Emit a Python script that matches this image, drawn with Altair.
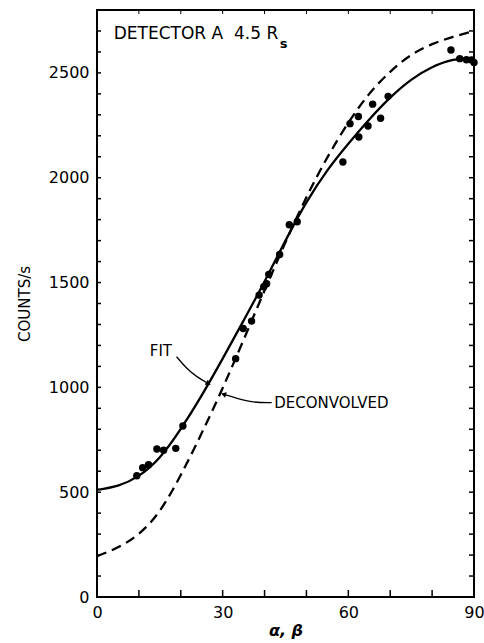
import altair as alt
import pandas as pd

# Measured count rates (angle in degrees, counts per second)
obs_angle = [9.5, 10.9, 12.3, 14.3, 15.9, 18.8, 20.5, 33.1, 34.9, 36.9, 38.7, 39.8,
             40.5, 41.0, 43.6, 45.9, 47.8, 58.7, 60.4, 62.4, 62.5, 64.7, 65.8, 67.7,
             69.5, 84.5, 86.6, 88.2, 89.4, 90.0]
obs_counts = [578, 617, 631, 706, 700, 709, 816, 1137, 1281, 1316, 1440, 1480,
              1494, 1539, 1634, 1776, 1790, 2075, 2258, 2292, 2194, 2247, 2351, 2284,
              2388, 2609, 2568, 2563, 2562, 2550]

# Fitted and deconvolved response curves
curve_angle = [0, 5, 10, 15, 20, 25, 30, 35, 40, 45, 50, 55, 60, 65, 70, 75, 80, 85, 90]
fit_counts = [511, 531, 579, 667, 802, 962, 1137, 1319, 1505, 1700, 1882, 2035, 2162,
              2278, 2382, 2467, 2527, 2562, 2572]
deconv_counts = [195, 237, 302, 412, 582, 782, 997, 1227, 1462, 1692, 1907, 2097, 2262,
                 2400, 2505, 2585, 2637, 2672, 2700]

# Tick positions
x_labels = [0, 30, 60, 90]
x_ticks = [0, 10, 20, 30, 40, 50, 60, 70, 80, 90]
y_labels = [0, 500, 1000, 1500, 2000, 2500]
y_ticks = list(range(100, 2800, 100))

# Leader lines for the curve labels
fit_arrow_x = [19.0, 21.4, 23.8, 26.6]
fit_arrow_y = [1146, 1090, 1050, 1018]
dec_arrow_x = [41.7, 37.3, 33.3, 30.2]
dec_arrow_y = [927, 927, 948, 967]

FONT = "DejaVu Sans"
NB = "\u00a0"
W, H = 377, 587

xs = alt.Scale(domain=[0, 90], nice=False, zero=False)
ys = alt.Scale(domain=[0, 2800], nice=False)
x_axis = alt.Axis(values=x_labels, ticks=False, domain=False, grid=False, format="d",
                  labelFont=FONT, labelFontSize=16, labelPadding=7, labelColor="black",
                  labelFlush=False, titleFont=FONT, titleFontSize=16,
                  titleFontWeight="bold", titleFontStyle="italic", titlePadding=2,
                  titleColor="black")
y_axis = alt.Axis(values=y_labels, ticks=False, domain=False, grid=False, format="d",
                  labelFont=FONT, labelFontSize=16, labelPadding=8, labelColor="black",
                  titleFont=FONT, titleFontSize=15, titleFontWeight="normal",
                  titlePadding=16, titleColor="black")


def X(field):
    return alt.X(f"{field}:Q", scale=xs, axis=x_axis, title="α, β")


def Y(field):
    return alt.Y(f"{field}:Q", scale=ys, axis=y_axis, title="COUNTS/s")


obs = pd.DataFrame({"angle": obs_angle, "counts": obs_counts})
fit = pd.DataFrame({"angle": curve_angle, "counts": fit_counts})
dec = pd.DataFrame({"angle": curve_angle, "counts": deconv_counts})

fit_line = alt.Chart(fit).mark_line(color="black", strokeWidth=2.3,
                                    interpolate="natural").encode(x=X("angle"), y=Y("counts"))
dec_line = alt.Chart(dec).mark_line(color="black", strokeWidth=2.3, strokeDash=[10, 6],
                                    interpolate="natural").encode(x=X("angle"), y=Y("counts"))
dots = alt.Chart(obs).mark_circle(color="black", opacity=1, size=55).encode(
    x=X("angle"), y=Y("counts"))

# Inward tick marks on all four sides
xt = pd.DataFrame({"t": x_ticks})
yt = pd.DataFrame({"t": y_ticks})
bottom_ticks = alt.Chart(xt).mark_rule(color="black", strokeWidth=1.5).encode(
    x=X("t"), y=alt.value(H), y2=alt.value(H - 7))
top_ticks = alt.Chart(xt).mark_rule(color="black", strokeWidth=1).encode(
    x=X("t"), y=alt.value(0), y2=alt.value(4))
left_ticks = alt.Chart(yt).mark_rule(color="black", strokeWidth=1.5).encode(
    y=Y("t"), x=alt.value(0), x2=alt.value(4))
right_ticks = alt.Chart(yt).mark_rule(color="black", strokeWidth=1.5).encode(
    y=Y("t"), x=alt.value(W), x2=alt.value(W - 5))

# Curve labels with leader arrows
fa = pd.DataFrame({"x": fit_arrow_x, "y": fit_arrow_y, "o": range(4)})
da = pd.DataFrame({"x": dec_arrow_x, "y": dec_arrow_y, "o": range(4)})
fit_leader = alt.Chart(fa).mark_line(color="black", strokeWidth=1.3, interpolate="basis").encode(
    x=X("x"), y=Y("y"), order="o:Q")
dec_leader = alt.Chart(da).mark_line(color="black", strokeWidth=1.3, interpolate="basis").encode(
    x=X("x"), y=Y("y"), order="o:Q")
fit_head = alt.Chart(fa.tail(1)).mark_point(shape="triangle-up", filled=True, color="black",
                                            opacity=1, size=35, angle=122).encode(x=X("x"), y=Y("y"))
dec_head = alt.Chart(da.tail(1)).mark_point(shape="triangle-up", filled=True, color="black",
                                            opacity=1, size=35, angle=287).encode(x=X("x"), y=Y("y"))

labels = pd.DataFrame({"x": [12.6, 42.3], "y": [1174, 926], "text": ["FIT", "DECONVOLVED"]})
label_text = alt.Chart(labels).mark_text(font=FONT, fontSize=15, align="left",
                                         baseline="middle", color="black").encode(
    x=X("x"), y=Y("y"), text="text:N")

head = pd.DataFrame({"x": [4.0], "y": [2662], "text": ["DETECTOR A" + NB * 2 + "4.5" + NB + "R"]})
head_text = alt.Chart(head).mark_text(font=FONT, fontSize=17, align="left",
                                      baseline="alphabetic", color="black").encode(
    x=X("x"), y=Y("y"), text="text:N")
sub = pd.DataFrame({"x": [43.6], "y": [2619], "text": ["s"]})
sub_text = alt.Chart(sub).mark_text(font=FONT, fontSize=13, fontWeight="bold", align="left",
                                    baseline="alphabetic", color="black").encode(
    x=X("x"), y=Y("y"), text="text:N")

chart = alt.layer(
    dec_line, fit_line, dots, bottom_ticks, top_ticks, left_ticks, right_ticks,
    fit_leader, dec_leader, fit_head, dec_head, label_text, head_text, sub_text
).properties(
    width=W, height=H,
    autosize=alt.AutoSizeParams(type="none"),
    padding={"left": 97, "top": 10, "right": 10, "bottom": 46},
    background="white",
).configure_view(stroke="black", strokeWidth=2)

chart.save("out.html", embed_options={"renderer": "svg", "actions": False})
